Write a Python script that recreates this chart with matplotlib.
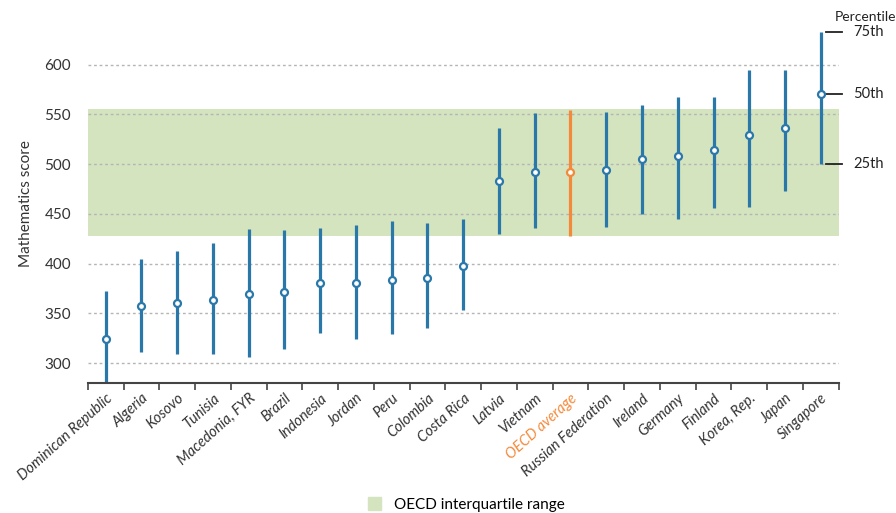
import numpy as np
import matplotlib
matplotlib.use("Agg")
import matplotlib.pyplot as plt
from matplotlib.patches import Patch

countries = ["Dominican Republic", "Algeria", "Kosovo", "Tunisia", "Macedonia, FYR",
             "Brazil", "Indonesia", "Jordan", "Peru", "Colombia", "Costa Rica",
             "Latvia", "Vietnam", "OECD average", "Russian Federation", "Ireland",
             "Germany", "Finland", "Korea, Rep.", "Japan", "Singapore"]
p50 = [324, 357, 360, 363, 369, 371, 381, 381, 384, 386, 398,
       483, 492, 492, 494, 505, 508, 514, 529, 536, 571]
p25 = [272, 311, 309, 309, 306, 314, 330, 324, 329, 335, 353,
       430, 436, 428, 437, 450, 445, 456, 457, 473, 500]
p75 = [373, 405, 413, 421, 435, 434, 436, 439, 443, 441, 445,
       536, 551, 554, 552, 559, 568, 568, 595, 595, 633]
oecd_iqr = (428, 555)

blue = "#2a78aa"
orange = "#f5893a"
green = "#d4e4bf"

plt.rcParams['font.family'] = ['Lato', 'DejaVu Sans']

fig = plt.figure(figsize=(8.96, 5.13), dpi=100)
ax = fig.add_axes([0.098, 0.2534, 0.838, 0.698])

x = np.arange(len(countries))
ax.axhspan(oecd_iqr[0], oecd_iqr[1], color=green, zorder=0, lw=0)
for yv in [300, 350, 400, 450, 500, 550, 600]:
    ax.axhline(yv, color="#b5b5b5", lw=1, ls=(0, (2, 2)), zorder=1)

for i in x:
    c = orange if countries[i] == "OECD average" else blue
    ax.plot([i, i], [p25[i], p75[i]], color=c, lw=2.3, solid_capstyle='butt', zorder=2)
    ax.plot(i, p50[i], 'o', ms=5, mfc='white', mec=c, mew=1.6, zorder=3)

ax.set_xlim(-0.5, len(countries) - 0.5)
ax.set_ylim(280, 640)
ax.set_yticks([300, 350, 400, 450, 500, 550, 600])
ax.tick_params(axis='y', length=0, labelsize=11, labelcolor="#333333", pad=12)
ax.set_ylabel("Mathematics score", fontsize=11, color="#333333", labelpad=8)

ax.set_xticks(x)
ax.set_xticklabels(countries, rotation=42, ha='right', rotation_mode='anchor',
                   fontsize=10.5, style='italic', color="#333333")
for lab in ax.get_xticklabels():
    if lab.get_text() == "OECD average":
        lab.set_color(orange)
ax.tick_params(axis='x', which='major', length=0, pad=6)
ax.set_xticks(np.arange(-0.5, len(countries)), minor=True)
ax.tick_params(axis='x', which='minor', length=5, width=1.2, color="#444444")

for s in ['top', 'right', 'left']:
    ax.spines[s].set_visible(False)
ax.spines['bottom'].set_color("#444444")
ax.spines['bottom'].set_linewidth(1.5)

# percentile key next to Singapore
xs = len(countries) - 1
for val, txt in [(p75[-1], "75th"), (p50[-1], "50th"), (p25[-1], "25th")]:
    ax.plot([xs + 0.15, xs + 0.6], [val, val], color="#222222", lw=1.3, clip_on=False)
    ax.text(xs + 0.9, val, txt, fontsize=10.5, va='center', ha='left', color="#222222")
ax.text(xs + 0.4, 648, "Percentile", fontsize=10, va='center', ha='left', color="#222222")

fig.legend(handles=[Patch(color=green)], labels=["OECD interquartile range"],
           loc='lower center', bbox_to_anchor=(0.52, -0.025), frameon=False,
           fontsize=11, handlelength=0.9, handleheight=0.9)

fig.savefig("out.png", dpi=100)
